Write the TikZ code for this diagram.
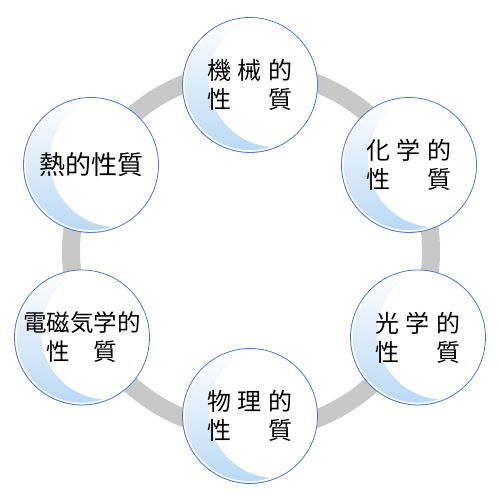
\documentclass[tikz,border=0pt]{standalone}
\usepackage{fontspec}
\newfontfamily\jp{Noto Sans CJK JP}
\definecolor{ringgray}{RGB}{200,200,200}
\definecolor{rimblue}{RGB}{84,118,190}
\definecolor{cresc}{RGB}{186,216,245}
\newcommand\mytri[3]{\makebox[86pt]{#1\hfill #2\hfill #3}\\\makebox[86pt]{性\hfill 質}}
\tikzset{
  bubble/.style={circle, minimum size=135pt, inner sep=0pt, draw=rimblue, line width=0.8pt,
    top color=white, bottom color=cresc,
    path picture={
      \draw[white, line width=1.6pt] (path picture bounding box.center) circle (66pt);
      \fill[white] ([shift={(26pt,5pt)}]path picture bounding box.center) circle (67pt);},
    font=\jp\fontsize{24}{29}\selectfont, align=center, text=black},
  ring/.style={draw=ringgray, line width=18pt}
}
\begin{document}
\begin{tikzpicture}[x=1pt,y=1pt]
\useasboundingbox (0,0) rectangle (500,500);
\coordinate (rc) at (251,249);
\draw[ring] (rc) circle (180);
\node[bubble] (mech) at (250,415) {\mytri{機}{械}{的}};
\node[bubble] (chem) at (409,335) {\mytri{化}{学}{的}};
\node[bubble] (opt)  at (418,162.5) {\mytri{光}{学}{的}};
\node[bubble] (phys) at (250,84) {\mytri{物}{理}{的}};
\node[bubble, font=\jp\fontsize{23.5}{29}\selectfont] (em) at (82,162.5)
  {電磁気学的\\\makebox[71pt]{性\hfill 質}};
\node[bubble, font=\jp\fontsize{26}{29}\selectfont] (heat) at (91,335) {熱的性質};
\end{tikzpicture}
\end{document}
